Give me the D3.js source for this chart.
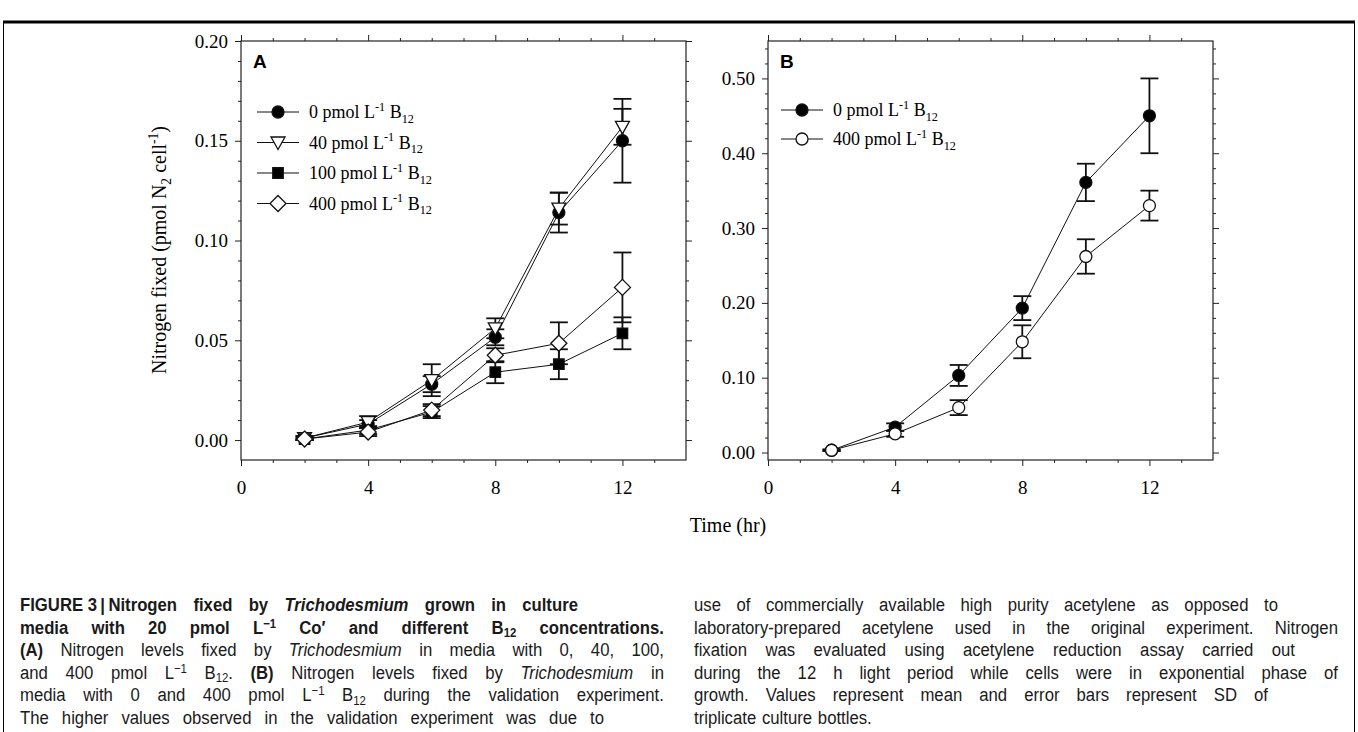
<!DOCTYPE html>
<html>
<head>
<meta charset="utf-8">
<script src="https://cdn.jsdelivr.net/npm/d3@7"></script>
<style>
  body { margin: 0; background: #fff; }
  svg { display: block; }
</style>
</head>
<body>
<svg id="chart" width="1358" height="732"></svg>
<script>
// time points (hr) and tick labels
var times = [2, 4, 6, 8, 10, 12]
var xTicks = [0, 4, 8, 12]
var yTicksA = [0, 0.05, 0.10, 0.15, 0.20]
var yTicksB = [0, 0.10, 0.20, 0.30, 0.40, 0.50]

// panel A: B12 treatments (mean, SD)
var namesA = ['0', '40', '100', '400']
var mean0 = [0.001, 0.008, 0.028, 0.0515, 0.114, 0.150]
var sd0 = [0.001, 0.002, 0.004, 0.004, 0.010, 0.021]
var mean40 = [0.001, 0.009, 0.030, 0.056, 0.116, 0.157]
var sd40 = [0.001, 0.003, 0.008, 0.005, 0.008, 0.009]
var mean100 = [0.0005, 0.005, 0.014, 0.034, 0.038, 0.0535]
var sd100 = [0.0005, 0.002, 0.003, 0.0055, 0.0075, 0.008]
var mean400 = [0.0005, 0.004, 0.015, 0.0425, 0.0485, 0.0765]
var sd400 = [0.0005, 0.002, 0.003, 0.0035, 0.0105, 0.0175]

// panel B: validation experiment
var namesB = ['0', '400']
var meanB0 = [0.003, 0.034, 0.103, 0.193, 0.361, 0.450]
var sdB0 = [0.001, 0.005, 0.014, 0.016, 0.025, 0.050]
var meanB400 = [0.003, 0.025, 0.060, 0.148, 0.262, 0.330]
var sdB400 = [0.001, 0.004, 0.010, 0.022, 0.023, 0.020]

var captionLeft = [
  '*FIGURE\u00a03\u2009|\u2009Nitrogen fixed by _Trichodesmium_ grown in culture*',
  '*media with 20 pmol L^\u22121^ Co\u2032 and different B~12~ concentrations.*',
  '*(A)* Nitrogen levels fixed by _Trichodesmium_ in media with 0, 40, 100,',
  'and 400 pmol L^\u22121^ B~12~. *(B)* Nitrogen levels fixed by _Trichodesmium_ in',
  'media with 0 and 400 pmol L^\u22121^ B~12~ during the validation experiment.',
  'The higher values observed in the validation experiment was due to'
]
var captionRight = [
  'use of commercially available high purity acetylene as opposed to',
  'laboratory-prepared acetylene used in the original experiment. Nitrogen',
  'fixation was evaluated using acetylene reduction assay carried out',
  'during the 12 h light period while cells were in exponential phase of',
  'growth. Values represent mean and error bars represent SD of',
  'triplicate culture bottles.'
]

var svg = d3.select('#chart')
var serif = "'Liberation Serif', 'Times New Roman', serif"
var sans = "'Liberation Sans', Arial, sans-serif"

// figure border
svg.append('line').attr('x1', 3).attr('x2', 1355).attr('y1', 22).attr('y2', 22)
  .attr('stroke', '#000').attr('stroke-width', 3)
svg.append('line').attr('x1', 3.5).attr('x2', 3.5).attr('y1', 22).attr('y2', 732)
  .attr('stroke', '#000')
svg.append('line').attr('x1', 1354.5).attr('x2', 1354.5).attr('y1', 22).attr('y2', 732)
  .attr('stroke', '#000')

// rich text: *bold* _italic_ ^sup^ ~sub~
function parseRich(str) {
  var words = [[]], st = { b: false, i: false, sup: false, sub: false }, buf = ''
  function flush() {
    if (buf) words[words.length - 1].push({ t: buf, b: st.b, i: st.i, sup: st.sup, sub: st.sub })
    buf = ''
  }
  for (var k = 0; k < str.length; k++) {
    var c = str[k]
    if (c === '*') { flush(); st.b = !st.b }
    else if (c === '_') { flush(); st.i = !st.i }
    else if (c === '^') { flush(); st.sup = !st.sup }
    else if (c === '~') { flush(); st.sub = !st.sub }
    else if (c === ' ') { flush(); words.push([]) }
    else buf += c
  }
  flush()
  return words.filter(function(w) { return w.length })
}

function drawPieces(text, pieces, fs, supUp, subDown) {
  var off = 0
  pieces.forEach(function(p) {
    var target = p.sup ? -(supUp || 0.4) * fs : p.sub ? (subDown || 0.25) * fs : 0
    text.append('tspan')
      .attr('dy', target - off)
      .attr('font-size', (p.sup || p.sub) ? fs * 0.68 : fs)
      .attr('font-weight', p.b ? 'bold' : null)
      .attr('font-style', p.i ? 'italic' : null)
      .text(p.t)
    off = target
  })
  return text
}

function richLine(g, str, x, y, fs, family, anchor) {
  var t = g.append('text').attr('x', x).attr('y', y).attr('font-family', family)
    .attr('font-size', fs).attr('text-anchor', anchor || 'start')
  var pieces = []
  parseRich(str).forEach(function(w, k) {
    if (k > 0) pieces.push({ t: ' ' })
    pieces = pieces.concat(w)
  })
  return drawPieces(t, pieces, fs)
}

// caption lines: words spread between x0 and x1, glyphs narrowed a bit
var capScale = 0.88
function justified(g, str, x0, x1, y, fs, family) {
  var words = parseRich(str)
  var nodes = words.map(function(w) {
    return drawPieces(g.append('text').attr('font-family', family).attr('font-size', fs), w, fs, 0.32, 0.18)
  })
  var widths = nodes.map(function(n) { return n.node().getComputedTextLength() * capScale })
  var total = d3.sum(widths)
  var gap = words.length > 1 && x1 ? (x1 - x0 - total) / (words.length - 1) : fs * 0.3
  gap = Math.max(gap, fs * 0.22)
  var x = x0
  nodes.forEach(function(n, k) {
    n.attr('transform', 'translate(' + x + ',' + y + ') scale(' + capScale + ',1)')
    x += widths[k] + gap
  })
}

// markers
function markerPath(type) {
  if (type === 'circle') return d3.symbol(d3.symbolCircle, Math.PI * 36)()
  if (type === 'square') return d3.symbol(d3.symbolSquare, 110)()
  if (type === 'triangle') return 'M-7,-5.5L7,-5.5L0,7Z'
  if (type === 'diamond') return 'M0,-8L8,0L0,8L-8,0Z'
}

function drawPanel(opts) {
  var g = svg.append('g')
  var x = opts.x, y = opts.y
  var x0 = x.range()[0], x1 = x.range()[1], yb = y.range()[0], yt = y.range()[1]

  var minorX = d3.range(1, 14).filter(function(d) { return xTicks.indexOf(d) < 0 })

  var sides = [
    { fn: d3.axisBottom, s: x, t: 'translate(0,' + yb + ')', major: xTicks, minor: minorX, lab: true },
    { fn: d3.axisTop, s: x, t: 'translate(0,' + yt + ')', major: xTicks, minor: minorX, lab: false },
    { fn: d3.axisLeft, s: y, t: 'translate(' + x0 + ',0)', major: opts.yTicks, minor: opts.minorY, lab: true },
    { fn: d3.axisRight, s: y, t: 'translate(' + x1 + ',0)', major: opts.yTicks, minor: opts.minorY, lab: false }
  ]
  sides.forEach(function(sd) {
    var isX = sd.s === x
    var maj = sd.fn(sd.s).tickValues(sd.major).tickSize(6).tickSizeOuter(0)
      .tickPadding(isX ? 15 : 7)
      .tickFormat(isX ? d3.format('d') : d3.format('.2f'))
    var mi = sd.fn(sd.s).tickValues(sd.minor).tickSize(3).tickSizeOuter(0)
    var ga = g.append('g').attr('transform', sd.t).call(maj)
    var gm = g.append('g').attr('transform', sd.t).call(mi)
    ga.select('.domain').remove()
    gm.select('.domain').remove()
    gm.selectAll('text').remove()
    if (!sd.lab) ga.selectAll('text').remove()
    ga.selectAll('text').attr('font-family', serif).attr('font-size', 19).attr('fill', '#000')
    ga.selectAll('line').attr('stroke', '#222')
    gm.selectAll('line').attr('stroke', '#222')
  })

  g.append('rect').attr('x', x0).attr('y', yt).attr('width', x1 - x0).attr('height', yb - yt)
    .attr('fill', 'none').attr('stroke', '#222').attr('stroke-width', 1.2)

  var line = d3.line().x(function(d) { return x(d.t) }).y(function(d) { return y(d.m) })

  opts.series.forEach(function(s) {
    g.append('path').datum(s.points).attr('d', line)
      .attr('fill', 'none').attr('stroke', '#111').attr('stroke-width', 1)
  })
  opts.series.forEach(function(s) {
    var eb = g.append('g').selectAll('g').data(s.points).enter().append('g')
      .attr('stroke', '#111').attr('stroke-width', 1.8)
    eb.append('line').attr('x1', function(d) { return x(d.t) }).attr('x2', function(d) { return x(d.t) })
      .attr('y1', function(d) { return y(d.m - d.sd) }).attr('y2', function(d) { return y(d.m + d.sd) })
    eb.append('line').attr('x1', function(d) { return x(d.t) - 9 }).attr('x2', function(d) { return x(d.t) + 9 })
      .attr('y1', function(d) { return y(d.m + d.sd) }).attr('y2', function(d) { return y(d.m + d.sd) })
    eb.append('line').attr('x1', function(d) { return x(d.t) - 9 }).attr('x2', function(d) { return x(d.t) + 9 })
      .attr('y1', function(d) { return y(d.m - d.sd) }).attr('y2', function(d) { return y(d.m - d.sd) })
  })
  opts.series.forEach(function(s) {
    g.append('g').selectAll('path').data(s.points).enter().append('path')
      .attr('d', markerPath(s.shape))
      .attr('transform', function(d) { return 'translate(' + x(d.t) + ',' + y(d.m) + ')' })
      .attr('fill', s.fill).attr('stroke', '#111').attr('stroke-width', 1.3)
  })

  // panel letter
  g.append('text').attr('x', x0 + 12).attr('y', 68).attr('font-family', sans)
    .attr('font-weight', 'bold').attr('font-size', 19).text(opts.letter)

  // legend
  opts.series.forEach(function(s, k) {
    var cy = opts.legendY + k * opts.legendGap
    var lx = x0 + opts.legendX
    g.append('line').attr('x1', lx).attr('x2', lx + 42).attr('y1', cy).attr('y2', cy)
      .attr('stroke', '#111').attr('stroke-width', 1)
    g.append('path').attr('d', markerPath(s.shape))
      .attr('transform', 'translate(' + (lx + 21) + ',' + cy + ')')
      .attr('fill', s.fill).attr('stroke', '#111').attr('stroke-width', 1.3)
    richLine(g, s.name + ' pmol L^-1^ B~12~', lx + 52, cy + 6, 18, serif)
  })
}

function makeSeries(means, sds) {
  return times.map(function(t, k) { return { t: t, m: means[k], sd: sds[k] } })
}

var xA = d3.scaleLinear().domain([0, 14]).range([241, 686])
var yA = d3.scaleLinear().domain([-0.01, 0.20]).range([460, 41])
var xB = d3.scaleLinear().domain([0, 14]).range([768, 1213])
var yB = d3.scaleLinear().domain([-0.01, 0.55]).range([460, 41])

drawPanel({
  x: xA, y: yA, letter: 'A', yTicks: yTicksA,
  minorY: d3.range(1, 20).filter(function(d) { return d % 5 !== 0 }).map(function(d) { return d / 100 }),
  legendX: 16, legendY: 112, legendGap: 30.5,
  series: [
    { name: namesA[0], shape: 'circle', fill: '#000', points: makeSeries(mean0, sd0) },
    { name: namesA[1], shape: 'triangle', fill: '#fff', points: makeSeries(mean40, sd40) },
    { name: namesA[2], shape: 'square', fill: '#000', points: makeSeries(mean100, sd100) },
    { name: namesA[3], shape: 'diamond', fill: '#fff', points: makeSeries(mean400, sd400) }
  ]
})

drawPanel({
  x: xB, y: yB, letter: 'B', yTicks: yTicksB,
  minorY: d3.range(1, 28).filter(function(d) { return d % 5 !== 0 }).map(function(d) { return d / 50 }),
  legendX: 13, legendY: 110, legendGap: 29,
  series: [
    { name: namesB[0], shape: 'circle', fill: '#000', points: makeSeries(meanB0, sdB0) },
    { name: namesB[1], shape: 'circle', fill: '#fff', points: makeSeries(meanB400, sdB400) }
  ]
})

// axis titles
richLine(svg, 'Nitrogen fixed (pmol N~2~ cell^-1^)', 0, 0, 20, serif, 'middle')
  .attr('transform', 'translate(166,250) rotate(-90)')
richLine(svg, 'Time (hr)', 728, 532, 20, serif, 'middle')

// caption
var capFont = "'Liberation Sans', Arial, Helvetica, sans-serif"
var capG = svg.append('g').attr('fill', '#1a1a1a')
var leftEnds = [578, 664, 664, 664, 664, 604]
var rightEnds = [1278, 1338, 1295, 1338, 1268, 0]
captionLeft.forEach(function(s, k) { justified(capG, s, 20, leftEnds[k], 611 + k * 22.6, 19, capFont) })
captionRight.forEach(function(s, k) { justified(capG, s, 694, rightEnds[k], 611 + k * 22.6, 19, capFont) })
</script>
</body>
</html>
